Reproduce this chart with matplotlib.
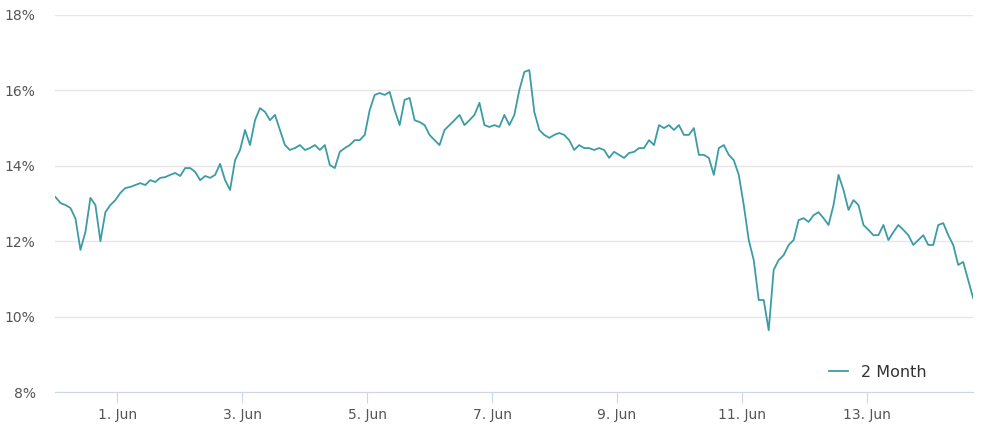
import matplotlib
matplotlib.use("Agg")
import matplotlib.pyplot as plt
import matplotlib.dates as mdates
import pandas as pd

# Yield (%) sampled roughly every 115 minutes starting 31 May 00:12
start_time = "2022-05-31 00:12"
step = "115min"
values = [
    13.17, 13.01, 12.96, 12.88, 12.60, 11.77, 12.25, 13.15, 12.96, 12.00,
    12.77, 12.96, 13.09, 13.28, 13.41, 13.44, 13.49, 13.54, 13.49, 13.62,
    13.57, 13.68, 13.70, 13.76, 13.81, 13.73, 13.94, 13.94, 13.84, 13.62,
    13.73, 13.68, 13.76, 14.05, 13.62, 13.36, 14.15, 14.42, 14.95, 14.55,
    15.21, 15.53, 15.43, 15.21, 15.35, 14.95, 14.55, 14.42, 14.47, 14.55,
    14.42, 14.47, 14.55, 14.42, 14.55, 14.02, 13.94, 14.37, 14.47, 14.55,
    14.68, 14.68, 14.82, 15.48, 15.88, 15.93, 15.88, 15.96, 15.48, 15.08,
    15.75, 15.80, 15.21, 15.16, 15.08, 14.82, 14.68, 14.55, 14.95, 15.08,
    15.21, 15.35, 15.08, 15.21, 15.35, 15.67, 15.08, 15.03, 15.08, 15.03,
    15.35, 15.08, 15.35, 16.01, 16.49, 16.54, 15.43, 14.95, 14.82, 14.74,
    14.82, 14.87, 14.82, 14.68, 14.42, 14.55, 14.47, 14.47, 14.42, 14.47,
    14.42, 14.21, 14.37, 14.29, 14.21, 14.34, 14.37, 14.47, 14.47, 14.68,
    14.55, 15.08, 15.00, 15.08, 14.95, 15.08, 14.82, 14.82, 15.00, 14.29,
    14.29, 14.21, 13.76, 14.47, 14.55, 14.29, 14.15, 13.76, 12.96, 12.03,
    11.50, 10.44, 10.44, 9.64, 11.24, 11.50, 11.63, 11.90, 12.03, 12.56,
    12.61, 12.51, 12.69, 12.77, 12.61, 12.43, 12.96, 13.76, 13.36, 12.83,
    13.09, 12.96, 12.43, 12.30, 12.16, 12.16, 12.43, 12.03, 12.24, 12.43,
    12.30, 12.16, 11.90, 12.03, 12.16, 11.90, 11.90, 12.43, 12.48, 12.16,
    11.90, 11.37, 11.45, 10.97, 10.49,
]
series_label = "2 Month"
y_ticks = [8, 10, 12, 14, 16, 18]
x_start = "2022-05-31 00:00"
x_end = "2022-06-14 16:48"

times = pd.date_range(start_time, periods=len(values), freq=step)

fig = plt.figure(figsize=(9.84, 4.33), dpi=100)
ax = fig.add_axes([55 / 984, 41 / 433, 918 / 984, 377 / 433])
ax.plot(times, values, color="#3c9ca4", linewidth=1.3, label=series_label)

ax.set_ylim(8, 18)
ax.set_yticks(y_ticks)
ax.set_yticklabels(["{0}%".format(v) for v in y_ticks])
ax.set_xlim(pd.Timestamp(x_start), pd.Timestamp(x_end))
ax.xaxis.set_major_locator(mdates.DayLocator(bymonthday=[1, 3, 5, 7, 9, 11, 13]))
ax.xaxis.set_major_formatter(mdates.DateFormatter("%-d. %b"))

ax.grid(axis="y", color="#e6e6e6", linewidth=1)
ax.set_axisbelow(True)
for side in ["top", "right", "left"]:
    ax.spines[side].set_visible(False)
ax.spines["bottom"].set_color("#ccd6eb")
ax.tick_params(axis="y", length=0, labelsize=10, labelcolor="#555555", pad=14)
ax.tick_params(axis="x", length=8, color="#ccd6eb", labelsize=10, labelcolor="#555555")

ax.legend(loc="lower right", frameon=False, fontsize=11.5, handlelength=1.2,
          bbox_to_anchor=(0.965, -0.005), labelcolor="#333333")
fig.savefig("out.png")
